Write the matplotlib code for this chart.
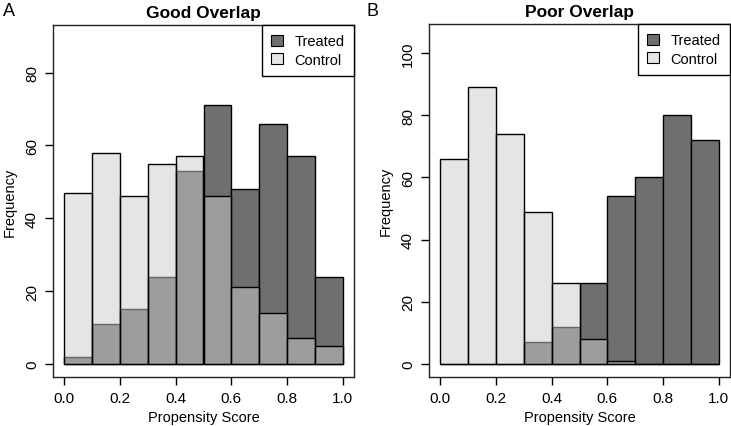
import matplotlib
matplotlib.use("Agg")
import matplotlib.pyplot as plt
from matplotlib.patches import Patch
import numpy as np

plt.rcParams['font.family'] = ['Liberation Sans', 'DejaVu Sans']

bin_edges = [0.0, 0.1, 0.2, 0.3, 0.4, 0.5, 0.6, 0.7, 0.8, 0.9]
bin_width = 0.1

good_treated = [2, 11, 15, 24, 53, 71, 48, 66, 57, 24]
good_control = [47, 58, 46, 55, 57, 46, 21, 14, 7, 5]

poor_treated = [0, 0, 0, 7, 12, 26, 54, 60, 80, 72]
poor_control = [66, 89, 74, 49, 26, 8, 1, 0, 0, 0]

x_ticks = [0.0, 0.2, 0.4, 0.6, 0.8, 1.0]
x_tick_labels = ["0.0", "0.2", "0.4", "0.6", "0.8", "1.0"]
good_yticks = [0, 20, 40, 60, 80]
poor_yticks = [0, 20, 40, 60, 80, 100]

treated_color = "#6f6f6f"
control_color = (0.80, 0.80, 0.80, 0.5)
legend_control = "#e6e6e6"

W, H = 731, 427
fig = plt.figure(figsize=(W / 100, H / 100), dpi=100)


def make_axes(left, right, top, bottom):
    return fig.add_axes([left / W, 1 - bottom / H, (right - left) / W, (bottom - top) / H])


def draw(ax, treated, control, yticks, ylim, title, letter, letter_x):
    ax.bar(bin_edges, treated, width=bin_width, align='edge', color=treated_color,
           edgecolor='black', linewidth=1.0, zorder=2)
    ax.bar(bin_edges, control, width=bin_width, align='edge', color=control_color,
           edgecolor='black', linewidth=1.0, zorder=3)
    ax.set_xlim(-0.04, 1.04)
    ax.set_ylim(*ylim)
    ax.set_xticks(x_ticks)
    ax.set_xticklabels(x_tick_labels, fontsize=11)
    ax.set_yticks(yticks)
    ax.set_yticklabels([str(v) for v in yticks], fontsize=11, rotation=90, va='center')
    ax.tick_params(axis='both', direction='out', length=6, width=1.0, color='black', pad=4)
    for s in ax.spines.values():
        s.set_linewidth(1.0)
        s.set_color('#222222')
    ax.set_xlabel("Propensity Score", fontsize=10.5, labelpad=4)
    ax.set_ylabel("Frequency", fontsize=10.5, labelpad=6)
    ax.set_title(title, fontsize=12.5, fontweight='bold', pad=6)
    fig.text(letter_x / W, 1 - 12 / H, letter, fontsize=13, va='center', ha='left')
    handles = [Patch(facecolor=treated_color, edgecolor='black', linewidth=0.8, label='Treated'),
               Patch(facecolor=legend_control, edgecolor='black', linewidth=0.8, label='Control')]
    leg = ax.legend(handles=handles, loc='upper right', borderaxespad=0, fancybox=False,
                    framealpha=1, edgecolor='black', fontsize=10.5, handlelength=0.8,
                    handleheight=0.8, handletextpad=0.8, labelspacing=0.3,
                    borderpad=0.65)
    leg.get_frame().set_linewidth(1.0)
    leg.set_zorder(5)


axA = make_axes(53, 354, 26, 378)
draw(axA, good_treated, good_control, good_yticks, (-3.6, 93.1), "Good Overlap", "A", 3)

axB = make_axes(429, 730, 25, 378)
draw(axB, poor_treated, poor_control, poor_yticks, (-4.2, 109.3), "Poor Overlap", "B", 366)

fig.savefig("out.png", dpi=100)
